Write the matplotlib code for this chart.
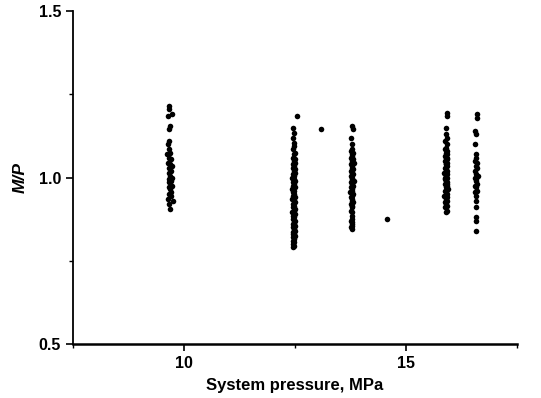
import matplotlib.pyplot as plt
from matplotlib.ticker import MultipleLocator

# M/P values, one group per test series
p_a = [9.66, 9.66, 9.72, 9.63, 9.68, 9.66, 9.66, 9.64, 9.66, 9.62, 9.69, 9.65, 9.71, 9.64, 9.68, 9.72, 9.66,
       9.70, 9.65, 9.69, 9.72, 9.66, 9.70, 9.67, 9.72, 9.65, 9.69, 9.71, 9.66, 9.70, 9.64, 9.74, 9.66, 9.68]
mp_a = [1.215, 1.205, 1.19, 1.185, 1.155, 1.145, 1.11, 1.10, 1.085, 1.07, 1.075, 1.06, 1.055, 1.045, 1.04, 1.035, 1.03,
        1.02, 1.015, 1.005, 1.0, 0.995, 0.99, 0.985, 0.975, 0.97, 0.965, 0.955, 0.95, 0.945, 0.935, 0.93, 0.92, 0.905]

p_b = [12.55, 12.46, 12.47, 12.46, 12.47, 12.48, 12.46, 12.49, 12.47, 12.45, 12.49, 12.47, 12.50, 12.46, 12.48,
       12.45, 12.49, 12.47, 12.50, 12.46, 12.48, 12.44, 12.47, 12.50, 12.45, 12.48, 12.46, 12.49, 12.43, 12.47,
       12.45, 12.48, 12.46, 12.50, 12.44, 12.47, 12.49, 12.45, 12.48, 12.46, 12.50, 12.47, 12.44, 12.49, 12.46,
       12.48, 12.45, 12.50, 12.47, 12.46, 12.49, 12.45, 12.48, 12.50, 12.46, 12.47, 12.49, 12.45, 12.48, 12.46,
       12.47, 12.45, 12.48, 12.46, 12.47, 12.46]
mp_b = [1.185, 1.15, 1.135, 1.12, 1.105, 1.095, 1.085, 1.075, 1.07, 1.06, 1.055, 1.05, 1.045, 1.04, 1.035,
        1.03, 1.025, 1.02, 1.015, 1.01, 1.005, 1.0, 0.995, 0.99, 0.985, 0.98, 0.975, 0.97, 0.965, 0.96,
        0.955, 0.95, 0.945, 0.94, 0.935, 0.93, 0.925, 0.92, 0.915, 0.91, 0.905, 0.90, 0.895, 0.89, 0.885,
        0.88, 0.875, 0.87, 0.865, 0.86, 0.855, 0.85, 0.845, 0.84, 0.835, 0.83, 0.825, 0.82, 0.815, 0.81,
        0.805, 0.80, 0.795, 0.79, 0.86, 0.83]

p_c = [13.78, 13.80, 13.76, 13.77, 13.79, 13.76, 13.81, 13.77, 13.79, 13.75, 13.80, 13.77, 13.82, 13.76,
       13.79, 13.77, 13.81, 13.75, 13.78, 13.80, 13.76, 13.79, 13.77, 13.82, 13.75, 13.78, 13.80, 13.76,
       13.79, 13.77, 13.74, 13.80, 13.78, 13.76, 13.79, 13.77, 13.80, 13.76, 13.78, 13.79, 13.76, 13.78,
       13.77, 13.79, 13.76, 13.78, 13.77, 13.79, 13.76, 13.78]
mp_c = [1.155, 1.145, 1.12, 1.10, 1.085, 1.08, 1.075, 1.07, 1.065, 1.06, 1.055, 1.05, 1.045, 1.04,
        1.035, 1.03, 1.025, 1.02, 1.015, 1.01, 1.005, 1.0, 0.995, 0.99, 0.985, 0.98, 0.975, 0.97,
        0.965, 0.96, 0.955, 0.95, 0.945, 0.94, 0.935, 0.93, 0.925, 0.92, 0.915, 0.91, 0.90, 0.895,
        0.885, 0.875, 0.87, 0.865, 0.86, 0.855, 0.85, 0.845]

p_d = [15.92, 15.93, 15.90, 15.89, 15.91, 15.88, 15.92, 15.90, 15.87, 15.91, 15.89, 15.93, 15.88, 15.90,
       15.92, 15.87, 15.91, 15.89, 15.93, 15.88, 15.90, 15.92, 15.86, 15.91, 15.89, 15.93, 15.88, 15.90,
       15.92, 15.87, 15.91, 15.89, 15.94, 15.88, 15.90, 15.92, 15.86, 15.91, 15.89, 15.93, 15.88, 15.90,
       15.92, 15.87, 15.91, 15.89, 15.90, 15.88, 15.91, 15.90, 15.89, 15.91]
mp_d = [1.195, 1.185, 1.15, 1.13, 1.12, 1.11, 1.10, 1.09, 1.085, 1.08, 1.075, 1.07, 1.065, 1.06,
        1.055, 1.05, 1.045, 1.04, 1.035, 1.03, 1.025, 1.02, 1.015, 1.01, 1.005, 1.0, 0.995, 0.99,
        0.985, 0.98, 0.975, 0.97, 0.965, 0.96, 0.955, 0.95, 0.945, 0.94, 0.935, 0.93, 0.925, 0.92,
        0.915, 0.91, 0.90, 0.895, 1.02, 1.0, 0.98, 1.04, 0.96, 1.06]

p_e = [16.60, 16.59, 16.56, 16.57, 16.56, 16.58, 16.57, 16.55, 16.59, 16.57, 16.60, 16.56, 16.58, 16.61,
       16.55, 16.58, 16.57, 16.60, 16.56, 16.58, 16.59, 16.56, 16.57, 16.58, 16.58, 16.58, 16.58, 16.58]
mp_e = [1.19, 1.18, 1.14, 1.13, 1.10, 1.07, 1.06, 1.05, 1.045, 1.035, 1.03, 1.02, 1.01, 1.005,
        1.0, 0.995, 0.99, 0.98, 0.975, 0.97, 0.96, 0.955, 0.945, 0.93, 0.91, 0.88, 0.87, 0.84]

p_single = [13.08, 14.57]
mp_single = [1.145, 0.876]

groups = [(p_a, mp_a), (p_b, mp_b), (p_c, mp_c), (p_d, mp_d), (p_e, mp_e), (p_single, mp_single)]

fig = plt.figure(figsize=(5.41, 3.98), dpi=100)
ax = fig.add_axes([0.135, 0.136, 0.821, 0.836])

for px, my in groups:
    ax.scatter(px, my, s=16, color='black', marker='o', linewidths=0)

ax.set_xlim(7.5, 17.5)
ax.set_ylim(0.5, 1.5)
ax.xaxis.set_major_locator(MultipleLocator(5))
ax.xaxis.set_minor_locator(MultipleLocator(2.5))
ax.yaxis.set_major_locator(MultipleLocator(0.5))
ax.yaxis.set_minor_locator(MultipleLocator(0.25))
ax.yaxis.set_major_formatter(plt.FormatStrFormatter('%.1f'))

for s in ['top', 'right']:
    ax.spines[s].set_visible(False)
ax.spines['bottom'].set_linewidth(1.8)
ax.spines['left'].set_linewidth(1.3)

ax.tick_params(axis='both', which='major', direction='out', length=5, width=1.2)
ax.tick_params(axis='both', which='minor', direction='out', length=3, width=1.0)
for lab in ax.get_xticklabels() + ax.get_yticklabels():
    lab.set_fontfamily('Liberation Sans')
    lab.set_fontweight('bold')
    lab.set_fontsize(11.5)

ax.set_xlabel('System pressure, MPa', fontfamily='Liberation Sans', fontsize=12, fontweight='bold', labelpad=5)
ax.set_ylabel('M/P', fontfamily='Liberation Sans', fontsize=12.5, fontweight='bold', fontstyle='italic', labelpad=8)

fig.savefig('out.png', dpi=100)
